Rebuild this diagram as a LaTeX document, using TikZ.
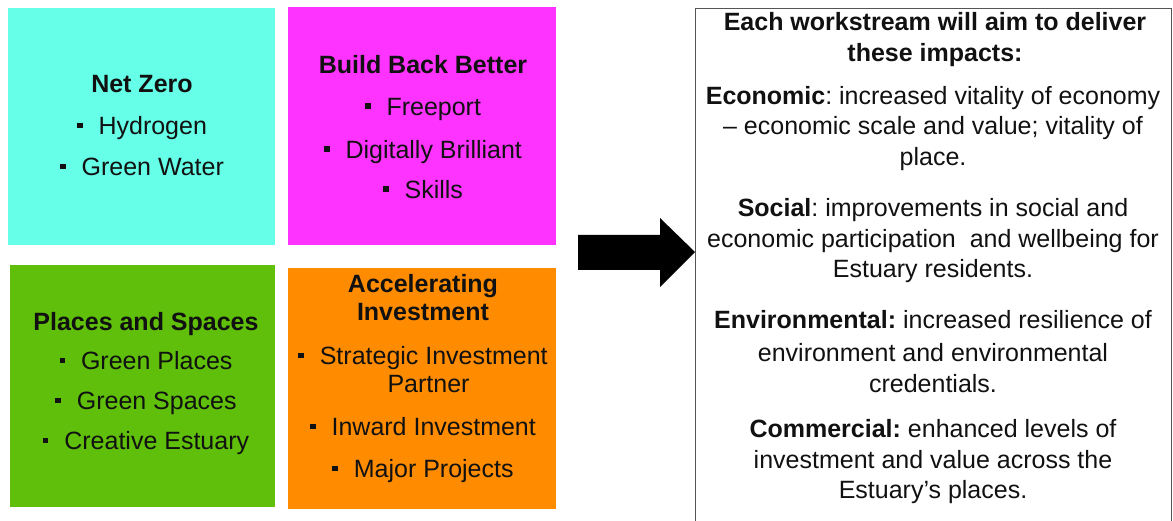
\documentclass[tikz,border=0pt]{standalone}
\usepackage{fontspec}
\setmainfont{Liberation Sans}
\frenchspacing
\definecolor{cz}{HTML}{66FFE8}
\definecolor{cm}{HTML}{FF33FF}
\definecolor{cg}{HTML}{5FBF0A}
\definecolor{co}{HTML}{FF8C00}
\definecolor{ink}{HTML}{111111}
\definecolor{edge}{HTML}{555555}
\newcommand{\blt}{\rule[6.5pt]{5.5pt}{5.5pt}\hspace{16pt}}
\tikzset{
  tile/.style={draw=none, inner sep=0pt},
  tiletext/.style={align=center, text=ink, inner sep=0pt, font=\fontsize{25}{28}\selectfont},
  imptext/.style={align=center, text=ink, inner sep=0pt, font=\fontsize{25}{30.5}\selectfont},
}
\begin{document}
\begin{tikzpicture}[x=1pt,y=-1pt]
\useasboundingbox (0,0) rectangle (1173,521);
\fill[white] (0,0) rectangle (1173,521);
% tiles
\node[tile, fill=cz, minimum width=267pt, minimum height=237pt] (nz) at (141.5,126.5) {};
\node[tile, fill=cm, minimum width=268pt, minimum height=238pt] (bbb) at (422,126) {};
\node[tile, fill=cg, minimum width=265pt, minimum height=242pt] (ps) at (142.5,386) {};
\node[tile, fill=co, minimum width=268pt, minimum height=241pt] (ai) at (422,388.5) {};
% tile texts
\node[tiletext] (nzt) at (142,126) {\textbf{Net Zero}\\[14pt]\blt Hydrogen\\[13pt]\blt Green Water};
\node[tiletext] (bbbt) at (423,127) {\textbf{Build Back Better}\\[14pt]\blt Freeport\\[15pt]\blt Digitally Brilliant\\[12pt]\blt Skills};
\node[tiletext] (pst) at (146,384) {\textbf{Places and Spaces}\\[11pt]\blt Green Places\\[12pt]\blt Green Spaces\\[12pt]\blt Creative Estuary};
\node[tiletext] (ait) at (423,379) {\textbf{Accelerating}\\\textbf{Investment}\\[16pt]\blt Strategic Investment\\\hspace*{11pt}Partner\\[15pt]\blt Inward Investment\\[14pt]\blt Major Projects};
% right box
\node[draw=edge, line width=1.3pt, fill=white, inner sep=0pt, minimum width=476pt, minimum height=532pt, anchor=north west] (rbox) at (695,8) {};
\node[imptext] (head) at (935,39.5) {\textbf{Each workstream will aim to deliver}\\\textbf{these impacts:}};
\node[imptext] (econ) at (933,128.5) {\textbf{Economic}: increased vitality of economy\\– economic scale and value; vitality of\\place.};
\node[imptext] (soc) at (933,241) {\textbf{Social}: improvements in social and\\economic participation\ \ and wellbeing for\\Estuary residents.};
\node[imptext] (env) at (933,351.5) {\textbf{Environmental:} increased resilience of\\[3pt]environment and environmental\\credentials.};
\node[imptext] (com) at (933,462) {\textbf{Commercial:} enhanced levels of\\investment and value across the\\Estuary’s places.};
% arrow
\coordinate (tip) at (rbox.west |- 0,252);
\fill[black] (578,235) -- (660,235) -- (660,218) -- (tip) -- (660,287) -- (660,270) -- (578,270) -- cycle;
\end{tikzpicture}
\end{document}
